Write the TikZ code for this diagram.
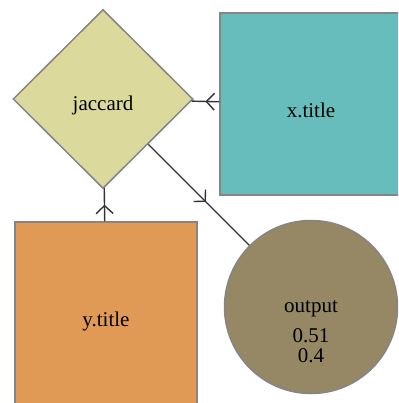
\documentclass[tikz,border=0pt]{standalone}
\usepackage{fontspec}
\setmainfont{Liberation Serif}
\usetikzlibrary{shapes.geometric,arrows.meta,decorations.markings}

\definecolor{jaccardfill}{HTML}{DBD99B}
\definecolor{xtitlefill}{HTML}{67BDBB}
\definecolor{ytitlefill}{HTML}{E09A56}
\definecolor{outputfill}{HTML}{968765}
\definecolor{bordergray}{HTML}{858585}
\definecolor{linkgray}{HTML}{333333}

\begin{document}
\begin{tikzpicture}[x=1pt,y=-1pt,
    every node/.style={font=\fontsize{21}{20}\selectfont},
    op/.style={diamond, draw=bordergray, line width=1.5pt, minimum width=180pt, minimum height=179pt, inner sep=0pt},
    var/.style={rectangle, draw=bordergray, line width=1.5pt, minimum size=182pt, inner sep=0pt},
    res/.style={circle, draw=bordergray, line width=1.5pt, minimum size=173pt, inner sep=0pt},
    link/.style={draw=linkgray, line width=1.4pt, postaction={decorate},
        decoration={markings, mark=at position #1 with {\arrow{Straight Barb[length=8pt,width=17pt,line width=1.4pt]}}}},
    link/.default=0.5]
    \useasboundingbox (0,0) rectangle (398,403);
    \clip (0,0) rectangle (398,403);

    % Operation jaccard
    \node (jaccard) [op, fill=jaccardfill, label={[yshift=-6pt]center:jaccard}] at (103,99) {};

    % Inputs x.title and y.title
    \node (xtitle) [var, fill=xtitlefill, label={[yshift=-6pt]center:x.title}] at (311,104) {};
    \node (ytitle) [var, fill=ytitlefill, label={[yshift=-8pt]center:y.title}] at (106,313) {};

    % Result node
    \node (output) [res, fill=outputfill, label={[align=center, yshift=-25pt]center:output\\[10pt]0.51\\0.4}] at (311,307) {};

    % Drawing the links
    \draw [link] (xtitle) -- (jaccard);
    \draw [link] (ytitle) -- (jaccard);
    \draw [link=0.57] (jaccard) -- (output);
\end{tikzpicture}
\end{document}
